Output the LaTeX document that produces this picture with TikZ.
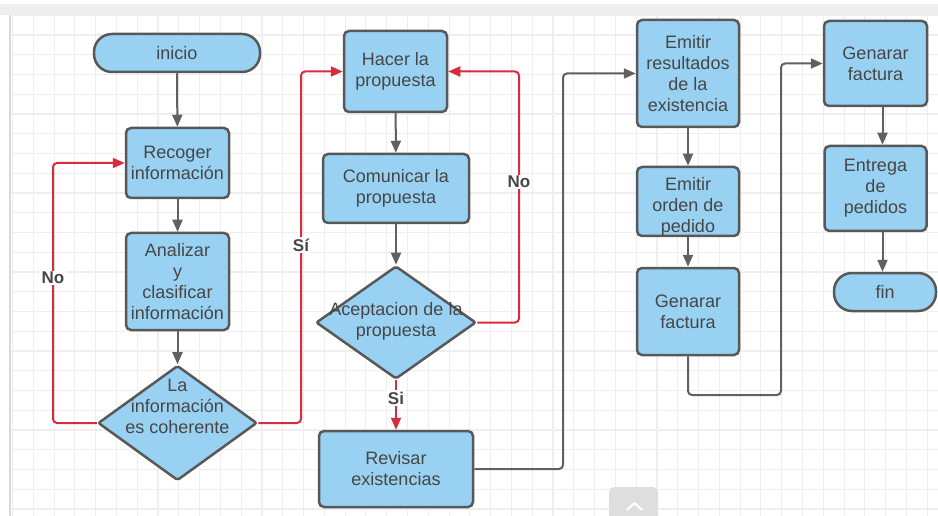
\documentclass[tikz,border=0pt]{standalone}
\usepackage{fontspec}
\setmainfont{Liberation Sans}
\usetikzlibrary{arrows.meta,shapes.geometric}

\definecolor{boxfill}{RGB}{153,209,242}
\definecolor{boxline}{RGB}{88,88,88}
\definecolor{txtgray}{RGB}{70,70,70}
\definecolor{flowred}{RGB}{214,44,62}
\definecolor{flowgray}{RGB}{96,96,96}
\definecolor{gridline}{RGB}{238,238,238}
\definecolor{frameband}{RGB}{238,238,238}
\definecolor{frameedge}{RGB}{218,218,218}
\definecolor{btnfill}{RGB}{222,222,222}

\begin{document}
\begin{tikzpicture}[x=1pt,y=-1pt,
  every node/.style={font=\fontsize{18}{21}\selectfont, text=txtgray, align=center},
  procbox/.style={draw=boxline, fill=boxfill, line width=2.5pt, rounded corners=5pt, inner sep=0pt},
  terminal/.style={draw=boxline, fill=boxfill, line width=2.5pt, rounded corners=18pt,
    minimum height=38pt, inner sep=0pt},
  decision/.style={diamond, draw=boxline, fill=boxfill, line width=2.5pt, inner sep=0pt,
    rounded corners=2pt},
  txt/.style={inner sep=0pt},
  flow/.style={draw=flowgray, line width=2pt, rounded corners=4pt,
    -{Triangle[length=12pt,width=10pt]}},
  redflow/.style={draw=flowred, line width=2pt, rounded corners=4pt,
    -{Triangle[length=12pt,width=10pt]}},
  lbl/.style={font=\fontsize{17}{20}\selectfont\bfseries, fill=white, inner sep=1.5pt, text=txtgray}
]
\useasboundingbox (0,0) rectangle (938,516);
\fill[white] (0,0) rectangle (938,516);

% canvas frame and grid
\fill[frameband] (0,4) rectangle (938,15);
\foreach \i in {0,...,44}
  \draw[gridline, line width=1.1pt] ({12.5+\i*20.79},15) -- ({12.5+\i*20.79},516);
\foreach \j in {0,...,25}
  \draw[gridline, line width=1.1pt] (11,{15.25+\j*19.75}) -- (938,{15.25+\j*19.75});
\draw[frameedge, line width=2.5pt] (10,15) -- (10,516);

% column 1
\node[terminal, minimum width=166pt] (inicio) at (177,53) {inicio};
\node[procbox, minimum width=103pt, minimum height=70pt] (rec) at (177.5,163) {Recoger\\información};
\node[procbox, minimum width=103pt, minimum height=97pt] (ana) at (177.5,281.5) {Analizar\\y\\clasificar\\información};
\node[decision, minimum width=159pt, minimum height=115pt] (coh) at (177.5,423) {};
\node[txt] (cohtxt) at ([yshift=17pt]coh.center) {La\\información\\es coherente};

% column 2
\node[procbox, minimum width=103pt, minimum height=81pt] (hac) at (395.5,71.5) {Hacer la\\propuesta};
\node[procbox, minimum width=146pt, minimum height=69pt] (com) at (396,188.5) {Comunicar la\\propuesta};
\node[decision, minimum width=160pt, minimum height=113pt] (acep) at (396,322.5) {};
\node[txt] (aceptxt) at ([yshift=1pt]acep.center) {Aceptacion de la\\propuesta};
\node[procbox, minimum width=154pt, minimum height=76pt] (rev) at (396,469) {Revisar\\existencias};

% column 3
\node[procbox, minimum width=102pt, minimum height=107pt] (emr) at (688,73.5) {Emitir\\resultados\\de la\\existencia};
\node[procbox, minimum width=102pt, minimum height=69pt] (emo) at (688,201.5) {};
\node[txt] (emotxt) at ([yshift=-5.5pt]emo.center) {Emitir\\orden de\\pedido};
\node[procbox, minimum width=102pt, minimum height=87pt] (gfm) at (688,311.5) {Genarar\\factura};

% column 4
\node[procbox, minimum width=103pt, minimum height=85pt] (gfr) at (875.5,63.5) {Genarar\\factura};
\node[procbox, minimum width=102pt, minimum height=85pt] (ent) at (875.5,188.5) {Entrega\\de\\pedidos};
\node[terminal, minimum width=102pt] (fin) at (885,292) {fin};

% routing columns of the loop-back connectors
\coordinate (noL) at (53,0);
\coordinate (siR) at (301,0);
\coordinate (noR) at (519,0);
\coordinate (revR) at (563,0);
\coordinate (gfmD) at (781,395);

% straight flow
\draw[flow] (inicio) -- (rec);
\draw[flow] (rec) -- (ana);
\draw[flow] (ana) -- (coh);
\draw[flow] (hac) -- (com);
\draw[flow] (com) -- (acep);
\draw[flow] (emr) -- (emo);
\draw[flow] (emo) -- (gfm);
\draw[flow] ([xshift=7pt]gfr.south) -- ([xshift=7pt]gfr.south |- ent.north);
\draw[flow] ([xshift=7pt]ent.south) -- ([xshift=7pt]ent.south |- fin.north);

% decisions
\draw[redflow] (coh.west) -- (coh.west -| noL) |- (rec.west);
\draw[redflow] (coh.east) -- (coh.east -| siR) |- (hac.west);
\draw[redflow] (acep.east) -- (acep.east -| noR) |- (hac.east);
\draw[redflow] (acep.south) -- (rev.north);

% stock check and invoicing
\draw[flow] (rev.east) -- (rev.east -| revR) |- (emr.west);
\draw[flow] (gfm.south) |- (gfmD) |- (gfr.west);

% branch labels
\node[lbl] (lblNoL) at (53,278) {No};
\node[lbl] (lblSiL) at (301,245) {Sí};
\node[lbl] (lblNoR) at (519,182) {No};
\node[lbl] (lblSiB) at (396,398) {Si};

% scroll button
\fill[btnfill, rounded corners=5pt] (609,487) rectangle (658,530);
\draw[white, line width=2pt, line cap=round, line join=round] (627,510) -- (634.5,503) -- (642,510);
\end{tikzpicture}
\end{document}
